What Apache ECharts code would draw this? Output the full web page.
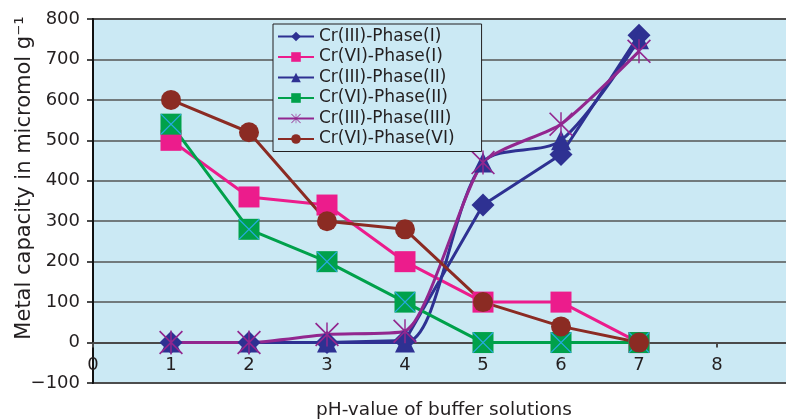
<!DOCTYPE html>
<html><head><meta charset="utf-8">
<script src="https://cdn.jsdelivr.net/npm/echarts@6/dist/echarts.min.js"></script>
<style>html,body{margin:0;padding:0;background:#fff}#c{width:786px;height:420px}</style>
</head><body><div id="c"></div>
<script>
// pH values (x) and metal capacities (micromol g-1)
const pH = [1, 2, 3, 4, 5, 6, 7];
const seriesNames = ['Cr(III)-Phase(I)', 'Cr(VI)-Phase(I)', 'Cr(III)-Phase(II)', 'Cr(VI)-Phase(II)', 'Cr(III)-Phase(III)', 'Cr(VI)-Phase(VI)'];
const crIII_I   = [0, 0, 0, 5, 340, 465, 760];
const crVI_I    = [500, 360, 340, 200, 100, 100, 0];
const crIII_II  = [0, 0, 0, 0, 445, 500, 750];
const crVI_II   = [540, 280, 200, 100, 0, 0, 0];
const crIII_III = [0, 0, 20, 28, 445, 540, 720];
const crVI_VI   = [600, 520, 300, 280, 100, 40, 0];

const pts = arr => pH.map((x, i) => [x, arr[i]]);
const FONT = 'DejaVu Sans';
const TXT = '#231F20';
const BG = '#CBE9F4';
const NAVY = '#2E3192', PINK = '#EC1C8C', GREEN = '#00A14B', PURPLE = '#92278F', BROWN = '#8B2B23', CYAN = '#27AAE1';
const STAR = 'path://M47 0L53 0L53 100L47 100Z M0 5L5 0L100 95L95 100Z M95 0L100 5L5 100L0 95Z';
const XMARK = 'path://M0 4L4 0L100 96L96 100Z M96 0L100 4L4 100L0 96Z';

function line(name, arr, color, symbol, size, smooth) {
  return {
    name, type: 'line', data: pts(arr), smooth: smooth || false,
    symbol, symbolSize: size,
    lineStyle: { color, width: 3 },
    itemStyle: { color },
    emphasis: { disabled: true }
  };
}

const chart = echarts.init(document.getElementById('c'), null, { renderer: 'canvas' });
chart.setOption({
  animation: false,
  backgroundColor: '#fff',
  grid: { left: 93, top: 19, width: 702, height: 364, containLabel: false, outerBoundsMode: 'none',
          show: true, backgroundColor: BG, borderColor: '#3a3a3a', borderWidth: 2 },
  legend: {
    orient: 'vertical', left: 273, top: 24,
    data: seriesNames,
    itemWidth: 36, itemHeight: 12, itemGap: 3.5,
    padding: [4, 27, 4, 4],
    backgroundColor: BG,
    borderColor: TXT, borderWidth: 1,
    textStyle: { fontFamily: FONT, fontSize: 17, color: TXT }
  },
  xAxis: {
    type: 'value', min: 0, max: 9, interval: 1,
    name: 'pH-value of buffer solutions', nameLocation: 'middle', nameGap: 18, nameMoveOverlap: false,
    nameTextStyle: { fontFamily: FONT, fontSize: 18.5, color: TXT },
    axisLine: { onZero: true, lineStyle: { color: '#4a4a4a', width: 2 } },
    axisTick: { show: true, length: 5, lineStyle: { color: '#4a4a4a', width: 2 } },
    axisLabel: { fontFamily: FONT, fontSize: 18, color: TXT, margin: -27, formatter: v => v === 9 ? '' : String(v) },
    splitLine: { show: false }
  },
  yAxis: {
    type: 'value', min: -100, max: 800, interval: 100,
    name: 'Metal capacity in micromol g\u207B\u00B9', nameLocation: 'middle', nameGap: 58, nameMoveOverlap: false,
    nameTextStyle: { fontFamily: FONT, fontSize: 21, color: TXT, padding: [0, 0, 0, 46] },
    axisLine: { show: true, onZero: false, lineStyle: { color: '#111', width: 2 } },
    axisTick: { show: true, length: 6, lineStyle: { color: '#111', width: 1.5 } },
    axisLabel: { fontFamily: FONT, fontSize: 18, color: TXT, margin: 13, formatter: v => v < 0 ? '\u2212' + Math.abs(v) : String(v) },
    splitLine: { show: true, lineStyle: { color: '#555', width: 1.5 } }
  },
  series: [
    line(seriesNames[0], crIII_I, NAVY, 'diamond', 23, false),
    line(seriesNames[1], crVI_I, PINK, 'rect', 21),
    line(seriesNames[2], crIII_II, NAVY, 'triangle', 20, 0.3),
    line(seriesNames[3], crVI_II, GREEN, 'rect', 21),
    {
      name: 'xmark', type: 'line', data: pts(crVI_II), symbol: XMARK, symbolSize: 21,
      lineStyle: { width: 0, opacity: 0 }, itemStyle: { color: CYAN }, silent: true, emphasis: { disabled: true }
    },
    line(seriesNames[4], crIII_III, PURPLE, STAR, 24, 0.2),
    line(seriesNames[5], crVI_VI, BROWN, 'circle', 20)
  ]
});
</script>
</body></html>
